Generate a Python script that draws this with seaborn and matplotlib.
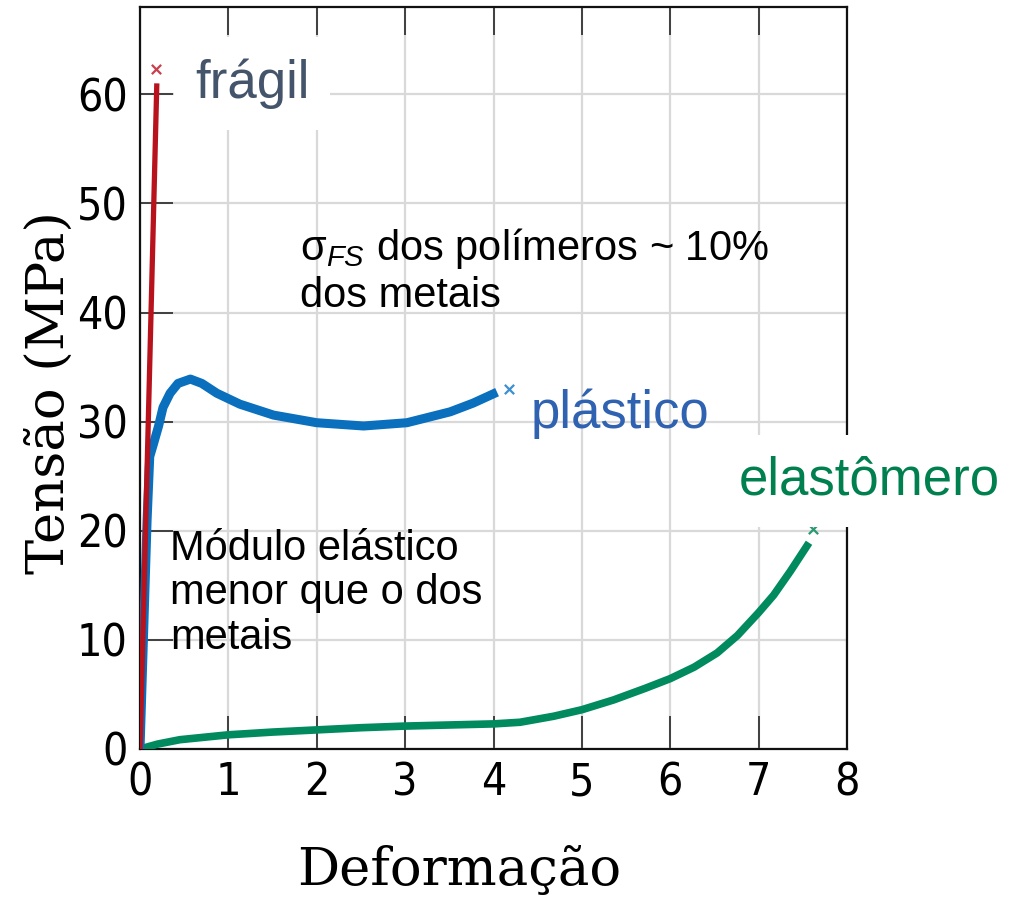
import numpy as np
import pandas as pd
import matplotlib
matplotlib.use("Agg")
import matplotlib.pyplot as plt
import seaborn as sns

# ---- data ----
fragil_x = [0.0, 0.19]
fragil_y = [0.0, 61.0]
fragil_break_x = [0.18]
fragil_break_y = [62.3]

plastico_x = [0.0, 0.08, 0.11, 0.15, 0.21, 0.26, 0.34, 0.43, 0.57, 0.70, 0.87, 1.13,
              1.51, 2.0, 2.53, 3.02, 3.51, 3.77, 4.04]
plastico_y = [0.0, 21.0, 26.8, 27.9, 29.6, 31.3, 32.6, 33.5, 33.9, 33.5, 32.6, 31.6,
              30.6, 29.9, 29.6, 29.9, 30.9, 31.7, 32.7]
plastico_break_x = [4.17]
plastico_break_y = [33.0]

elast_x = [0.0, 0.2, 0.45, 1.0, 1.5, 2.0, 2.5, 3.0, 3.5, 4.0, 4.3, 4.68, 5.0, 5.36,
           5.72, 6.0, 6.27, 6.53, 6.76, 7.0, 7.17, 7.36, 7.57]
elast_y = [0.0, 0.45, 0.85, 1.3, 1.55, 1.75, 1.95, 2.1, 2.2, 2.3, 2.45, 3.0, 3.6, 4.5,
           5.57, 6.45, 7.5, 8.8, 10.4, 12.5, 14.1, 16.3, 18.9]
elast_break_x = [7.61]
elast_break_y = [20.2]

x_ticks = [0, 1, 2, 3, 4, 5, 6, 7, 8]
y_ticks = [0, 10, 20, 30, 40, 50, 60]

RED = "#b8121d"
BLUE = "#0a6fbd"
GREEN = "#008a5e"

sns.set_style("ticks")
plt.rcParams["font.family"] = ["Liberation Sans", "DejaVu Sans"]
plt.rcParams["mathtext.fontset"] = "custom"
plt.rcParams["mathtext.rm"] = "Liberation Sans"
plt.rcParams["mathtext.it"] = "Liberation Sans:italic"

fig = plt.figure(figsize=(10.11, 9.06), dpi=100)
ax = fig.add_axes([0.1385, 0.1733, 0.6993, 0.8190])

ax.grid(True, color="#d9d9d9", lw=1.6)
ax.set_axisbelow(True)

df_p = pd.DataFrame({"x": plastico_x, "y": plastico_y})
df_e = pd.DataFrame({"x": elast_x, "y": elast_y})
df_f = pd.DataFrame({"x": fragil_x, "y": fragil_y})

sns.lineplot(data=df_e, x="x", y="y", ax=ax, color=GREEN, lw=5.5, sort=False,
             solid_capstyle="butt", solid_joinstyle="round", zorder=3)
sns.lineplot(data=df_p, x="x", y="y", ax=ax, color=BLUE, lw=6.5, sort=False,
             solid_capstyle="butt", solid_joinstyle="round", zorder=3)
sns.lineplot(data=df_f, x="x", y="y", ax=ax, color=RED, lw=3.8, sort=False,
             solid_capstyle="butt", zorder=4)

sns.scatterplot(x=fragil_break_x, y=fragil_break_y, ax=ax, marker="x", s=45,
                color="#c9404c", linewidth=1.6, zorder=5)
sns.scatterplot(x=plastico_break_x, y=plastico_break_y, ax=ax, marker="x", s=45,
                color="#3b8fd2", linewidth=1.6, zorder=5)
sns.scatterplot(x=elast_break_x, y=elast_break_y, ax=ax, marker="x", s=45,
                color="#2a9a72", linewidth=1.6, zorder=5)

ax.set_xlim(0, 8)
ax.set_ylim(0, 68)
ax.set_xticks(x_ticks)
ax.set_yticks(y_ticks)
ax.set_xticklabels([str(v) for v in x_ticks])
ax.set_yticklabels([str(v) for v in y_ticks])

for lab in ax.get_xticklabels() + ax.get_yticklabels():
    lab.set_family(["DejaVu Sans"])
    lab.set_stretch("condensed")
    lab.set_fontsize(32)
    lab.set_color("black")

ax.tick_params(axis="both", direction="in", length=24, width=1.3, color="#333333",
               top=True, right=False, pad=9)
for t in ax.xaxis.get_major_ticks():
    t.tick2line.set_markersize(20)

for sp in ax.spines.values():
    sp.set_linewidth(1.6)
    sp.set_color("#111111")

ax.set_xlabel("Deformação", family=["DejaVu Serif"], fontsize=38, color="black")
ax.set_ylabel("Tensão (MPa)", family=["DejaVu Serif"], fontsize=38, color="black")
ax.xaxis.set_label_coords(0.451, -0.130)
ax.yaxis.set_label_coords(-0.092, 0.481)

ax.text(0.62, 59.7, "frágil", fontsize=38, color="#44546a", va="baseline", ha="left",
        bbox=dict(boxstyle="square,pad=0.4", facecolor="white", edgecolor="none"), zorder=6)
ax.text(4.42, 29.4, "plástico", fontsize=38, color="#2f62b0", va="baseline", ha="left", zorder=6)
ax.text(6.77, 23.3, "elastômero", fontsize=38, color="#00804f", va="baseline", ha="left",
        bbox=dict(boxstyle="square,pad=0.4", facecolor="white", edgecolor="none"), zorder=6)

ax.text(1.81, 47.9, "σ$_{\\mathit{FS}}$ dos polímeros ~ 10%\ndos metais", fontsize=30,
        color="black", va="top", ha="left", linespacing=1.15, zorder=6)
ax.text(0.34, 20.2, "Módulo elástico\nmenor que o dos\nmetais", fontsize=30,
        color="black", va="top", ha="left", linespacing=1.15, zorder=6)

fig.savefig("out.png", dpi=100)
